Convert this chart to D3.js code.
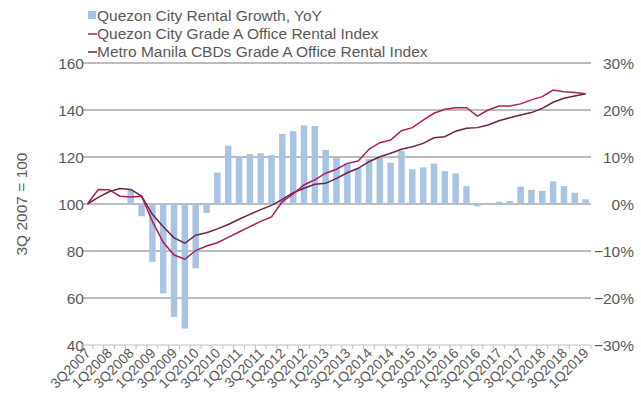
<!DOCTYPE html>
<html lang="en">
<head>
<meta charset="utf-8">
<title>Quezon City office rents</title>
<style>
  body { margin: 0; background: #fff; }
  svg text { font-family: "Liberation Sans", Arial, sans-serif; fill: #595959; }
</style>
<script src="https://d3js.org/d3.v7.min.js"></script>
</head>
<body>
<svg id="chart" width="641" height="403"></svg>
<script>
var quarters = ["3Q2007","4Q2007","1Q2008","2Q2008","3Q2008","4Q2008","1Q2009","2Q2009","3Q2009","4Q2009",
  "1Q2010","2Q2010","3Q2010","4Q2010","1Q2011","2Q2011","3Q2011","4Q2011","1Q2012","2Q2012",
  "3Q2012","4Q2012","1Q2013","2Q2013","3Q2013","4Q2013","1Q2014","2Q2014","3Q2014","4Q2014",
  "1Q2015","2Q2015","3Q2015","4Q2015","1Q2016","2Q2016","3Q2016","4Q2016","1Q2017","2Q2017",
  "3Q2017","4Q2017","1Q2018","2Q2018","3Q2018","4Q2018","1Q2019"];

// YoY growth, % (first four quarters have no value)
var qcGrowth = [null,null,null,null,3.0,-2.6,-12.3,-19.0,-24.0,-26.5,
  -13.7,-1.9,6.7,12.4,9.9,10.6,10.8,10.4,14.9,15.5,
  16.7,16.6,11.5,9.9,8.7,7.6,9.6,9.9,8.8,11.3,
  7.4,7.8,8.6,7.0,6.5,3.8,-0.5,-0.2,0.5,0.6,
  3.7,3.0,2.8,4.8,3.8,2.4,1.0];

var qcIndex = [100,106.2,106.1,103.3,103.0,103.3,92.6,83.7,78.3,76.5,
  80.2,82.1,83.5,85.8,88.1,90.4,92.6,94.5,101.0,104.3,
  108.1,110.3,113.1,114.8,117.3,118.3,123.3,126.1,127.2,131.2,
  132.5,135.7,138.6,140.3,141.0,141.0,137.4,140.0,141.7,141.7,
  142.6,144.3,145.7,148.5,147.8,147.4,146.9];

var mmIndex = [100,102.8,105.2,106.6,106.2,103.4,95.6,90.3,85.6,83.3,
  86.7,87.8,89.4,91.3,93.5,95.6,97.6,99.4,102.0,104.8,
  106.7,108.4,108.8,110.9,113.3,115.2,118.0,120.1,121.6,123.3,
  124.4,125.8,128.2,128.6,131.0,132.2,132.5,133.6,135.4,136.7,
  137.9,138.9,140.7,143.3,145.0,146.0,146.9];

var leftTicks = [40,60,80,100,120,140,160];
var rightTicks = [-0.3,-0.2,-0.1,0,0.1,0.2,0.3];

var seriesNames = ["Quezon City Rental Growth, YoY",
  "Quezon City Grade A Office Rental Index",
  "Metro Manila CBDs Grade A Office Rental Index"];

var svg = d3.select("#chart");
var plotL = 82, plotR = 591, plotT = 63, plotB = 345;

var x = d3.scaleBand().domain(quarters).range([plotL, plotR]);
var yL = d3.scaleLinear().domain([40, 160]).range([plotB, plotT]);
var yR = d3.scaleLinear().domain([-0.3, 0.3]).range([plotB, plotT]);

// gridlines
svg.append("g")
  .selectAll("line")
  .data(leftTicks.slice(1))
  .join("line")
  .attr("x1", plotL).attr("x2", plotR)
  .attr("y1", d => yL(d)).attr("y2", d => yL(d))
  .attr("stroke", "#a6a6a6")
  .attr("stroke-width", 1.3);

// left axis labels
svg.append("g")
  .selectAll("text")
  .data(leftTicks)
  .join("text")
  .attr("x", 84).attr("y", d => yL(d) + 5.5)
  .attr("text-anchor", "end")
  .attr("font-size", 15.5)
  .text(d => d);

// right axis labels
svg.append("g")
  .selectAll("text")
  .data(rightTicks)
  .join("text")
  .attr("x", 634).attr("y", d => yR(d) + 5.5)
  .attr("text-anchor", "end")
  .attr("font-size", 15.5)
  .text(d => d3.format(".0%")(d));

svg.append("text")
  .attr("transform", "translate(27," + yL(100) + ") rotate(-90)")
  .attr("text-anchor", "middle")
  .attr("font-size", 15.5)
  .text("3Q 2007 = 100");

// bars
var bw = x.bandwidth() * 0.6;
svg.append("g")
  .selectAll("rect")
  .data(quarters.map((q, i) => ({q: q, v: qcGrowth[i]})).filter(d => d.v !== null))
  .join("rect")
  .attr("x", d => x(d.q) + (x.bandwidth() - bw) / 2)
  .attr("width", bw)
  .attr("y", d => yR(Math.max(0, d.v / 100)))
  .attr("height", d => Math.abs(yR(d.v / 100) - yR(0)))
  .attr("fill", "#a9c4e3");

// bottom axis
var xAxis = svg.append("g");
xAxis.append("line")
  .attr("x1", plotL).attr("x2", plotR)
  .attr("y1", plotB).attr("y2", plotB)
  .attr("stroke", "#bfbfbf");
xAxis.selectAll("line.tick")
  .data(d3.range(quarters.length + 1))
  .join("line")
  .attr("class", "tick")
  .attr("x1", i => plotL + i * x.step()).attr("x2", i => plotL + i * x.step())
  .attr("y1", plotB).attr("y2", plotB + 4)
  .attr("stroke", "#bfbfbf");
xAxis.selectAll("text")
  .data(quarters.filter((q, i) => i % 2 === 0))
  .join("text")
  .attr("transform", d => "translate(" + (x(d) + x.bandwidth() / 2 + 4) + "," + (plotB + 9) + ") rotate(-45)")
  .attr("text-anchor", "end")
  .attr("font-size", 14)
  .text(d => d);

// lines
var line = d3.line()
  .x((d, i) => x(quarters[i]) + x.bandwidth() / 2)
  .y(d => yL(d));

svg.append("path")
  .attr("d", line(mmIndex))
  .attr("fill", "none")
  .attr("stroke", "#6c2248")
  .attr("stroke-width", 1.5);

svg.append("path")
  .attr("d", line(qcIndex))
  .attr("fill", "none")
  .attr("stroke", "#b01c5e")
  .attr("stroke-width", 1.5);

// legend
var lg = svg.append("g");
lg.append("rect").attr("x", 88).attr("y", 11).attr("width", 8).attr("height", 8).attr("fill", "#a9c4e3");
lg.append("line").attr("x1", 88).attr("x2", 97).attr("y1", 34).attr("y2", 34).attr("stroke", "#b01c5e").attr("stroke-width", 1.5);
lg.append("line").attr("x1", 88).attr("x2", 97).attr("y1", 52).attr("y2", 52).attr("stroke", "#6c2248").attr("stroke-width", 1.5);
lg.selectAll("text")
  .data(seriesNames)
  .join("text")
  .attr("x", 97)
  .attr("y", (d, i) => 20.5 + i * 18)
  .attr("font-size", 15.5)
  .text(d => d);
</script>
</body>
</html>
